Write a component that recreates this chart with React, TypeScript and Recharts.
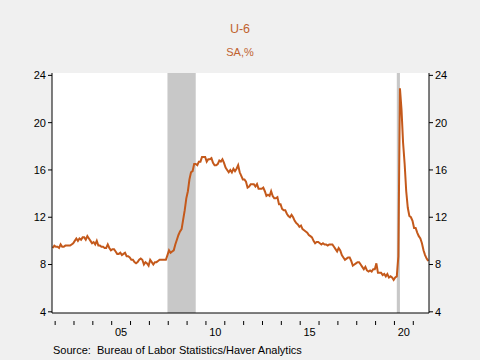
import React from 'react';
import { LineChart, Line, XAxis, YAxis, ReferenceArea, CartesianGrid } from 'recharts';

// Monthly U-6 rate, SA, %, Nov 2001 .. Oct 2021
const startYear = 2001;
const startMonth = 11; // November
const u6Values: number[] = [
  // 2001 Nov-Dec
  9.4, 9.6,
  // 2002
  9.5, 9.5, 9.4, 9.7, 9.5, 9.5, 9.6, 9.6, 9.6, 9.6, 9.7, 9.8,
  // 2003
  10.0, 10.2, 10.0, 10.2, 10.1, 10.3, 10.3, 10.1, 10.4, 10.2, 10.0, 9.8,
  // 2004
  9.9, 9.7, 10.0, 9.6, 9.6, 9.5, 9.5, 9.4, 9.4, 9.7, 9.4, 9.2,
  // 2005
  9.3, 9.3, 9.1, 8.9, 8.9, 9.0, 8.8, 8.9, 9.0, 8.7, 8.7, 8.6,
  // 2006
  8.4, 8.4, 8.2, 8.1, 8.2, 8.4, 8.5, 8.4, 8.0, 8.2, 8.1, 7.9,
  // 2007
  8.4, 8.2, 8.0, 8.2, 8.2, 8.3, 8.4, 8.4, 8.4, 8.4, 8.4, 8.8,
  // 2008
  9.2, 9.0, 9.1, 9.2, 9.7, 10.1, 10.5, 10.8, 11.0, 11.8, 12.6, 13.6,
  // 2009
  14.2, 15.2, 15.8, 15.9, 16.5, 16.5, 16.4, 16.7, 16.7, 17.1, 17.1, 17.1,
  // 2010
  16.7, 16.9, 16.9, 17.0, 16.6, 16.4, 16.4, 16.5, 16.8, 16.7, 16.9, 16.6,
  // 2011
  16.2, 16.0, 15.8, 16.0, 15.8, 16.1, 15.9, 16.1, 16.4, 15.8, 15.5, 15.2,
  // 2012
  15.2, 15.0, 14.5, 14.6, 14.8, 14.8, 14.8, 14.6, 14.8, 14.4, 14.4, 14.4,
  // 2013
  14.5, 14.2, 13.8, 13.9, 13.8, 14.2, 13.8, 13.6, 13.6, 13.7, 13.1, 13.1,
  // 2014
  12.7, 12.6, 12.6, 12.3, 12.1, 12.0, 12.2, 12.0, 11.7, 11.5, 11.4, 11.2,
  // 2015
  11.3, 11.0, 10.9, 10.8, 10.7, 10.5, 10.4, 10.3, 10.0, 9.8, 9.9, 9.9,
  // 2016
  9.8, 9.7, 9.8, 9.7, 9.7, 9.6, 9.7, 9.7, 9.7, 9.5, 9.3, 9.1,
  // 2017
  9.4, 9.2, 8.8, 8.6, 8.4, 8.5, 8.6, 8.6, 8.3, 7.9, 8.0, 8.1,
  // 2018
  8.2, 8.2, 8.0, 7.8, 7.6, 7.8, 7.5, 7.4, 7.5, 7.4, 7.6, 7.6,
  // 2019
  8.1, 7.3, 7.3, 7.3, 7.1, 7.2, 7.0, 7.2, 6.9, 7.0, 6.9, 6.7,
  // 2020
  6.9, 7.0, 8.7, 22.9, 21.1, 18.3, 16.5, 14.2, 12.8, 12.1, 12.0, 11.7,
  // 2021 Jan-Oct
  11.1, 11.1, 10.7, 10.4, 10.2, 9.8, 9.2, 8.8, 8.5, 8.3,
];

// Recessions as [start year, start month, end year, end month]
const recessions: [number, number, number, number][] = [
  [2007, 12, 2009, 6],
  [2020, 2, 2020, 4],
];

const yTicks = [4, 8, 12, 16, 20, 24];
const tickYears = Array.from({ length: 20 }, (_, i) => 2002 + i);
const labelYears: Record<number, string> = { 2005: '05', 2010: '10', 2015: '15', 2020: '20' };

const monthIndex = (y: number, m: number) => (y - startYear) * 12 + (m - startMonth);
const totalMonths = 240;

const data = u6Values.map((v, i) => ({ t: i + 0.5, v }));
const xTicks = tickYears.map((y) => monthIndex(y, 1));

const W = 480;
const H = 360;
const plotLeft = 52;
const plotRight = 429;
const pxPerMonth = (plotRight - plotLeft) / totalMonths;

const font = '"Liberation Sans", Arial, sans-serif';
const orange = '#c4591b';

const XTick = (props: any) => {
  const { x, y, payload } = props;
  const year = startYear + Math.floor((payload.value + startMonth - 1) / 12);
  const label = labelYears[year];
  return (
    <g>
      <line x1={x} y1={y} x2={x} y2={y + 4} stroke="#000" strokeWidth={1} />
      {label ? (
        <text
          x={x + 6 * pxPerMonth}
          y={y + 15}
          textAnchor="middle"
          fontSize={11}
          fontFamily={font}
          fill="#000"
        >
          {label}
        </text>
      ) : null}
    </g>
  );
};

export default function App() {
  return (
    <div
      style={{
        position: 'absolute',
        left: 0,
        top: 0,
        width: W,
        height: H,
        background: '#f0f0f0',
        fontFamily: font,
      }}
    >
      <div
        style={{
          position: 'absolute',
          top: 22,
          left: 0,
          width: W,
          textAlign: 'center',
          fontSize: 12.5,
          color: '#c0622f',
        }}
      >
        U-6
      </div>
      <div
        style={{
          position: 'absolute',
          top: 46,
          left: 0,
          width: W,
          textAlign: 'center',
          fontSize: 11,
          color: '#c0622f',
        }}
      >
        SA,%
      </div>
      <div style={{ position: 'absolute', left: 0, top: 0 }}>
        <LineChart
          width={W}
          height={H}
          data={data}
          margin={{ top: 73, right: 0, bottom: 0, left: 0 }}
        >
          <CartesianGrid horizontal={false} vertical={false} fill="#ffffff" stroke="none" yAxisId="l" />
          <XAxis
            dataKey="t"
            type="number"
            domain={[0, totalMonths]}
            ticks={xTicks}
            interval={0}
            tick={<XTick />}
            tickLine={false}
            axisLine={{ stroke: '#000' }}
            height={47}
            allowDataOverflow
          />
          <XAxis
            xAxisId="top"
            orientation="top"
            type="number"
            domain={[0, totalMonths]}
            tick={false}
            tickLine={false}
            axisLine={{ stroke: '#000' }}
            height={0}
          />
          <YAxis
            yAxisId="l"
            domain={[3.9, 24.2]}
            ticks={yTicks}
            interval={0}
            width={52}
            tickSize={4}
            tickLine={{ stroke: '#000' }}
            axisLine={{ stroke: '#000' }}
            tick={{ fontSize: 11, fill: '#000', fontFamily: font }}
            tickMargin={2}
            allowDataOverflow
          />
          <YAxis
            yAxisId="r"
            orientation="right"
            domain={[3.9, 24.2]}
            ticks={yTicks}
            interval={0}
            width={51}
            tickSize={4}
            tickLine={{ stroke: '#000' }}
            axisLine={{ stroke: '#000' }}
            tick={{ fontSize: 11, fill: '#000', fontFamily: font }}
            tickMargin={2}
            allowDataOverflow
          />
          {recessions.map(([sy, sm, ey, em], i) => (
            <ReferenceArea
              key={i}
              yAxisId="l"
              x1={monthIndex(sy, sm) + 0.5}
              x2={monthIndex(ey, em) + 0.5}
              fill="#c8c8c8"
              fillOpacity={1}
              stroke="none"
            />
          ))}
          <Line
            yAxisId="l"
            type="linear"
            dataKey="v"
            stroke={orange}
            strokeWidth={2}
            dot={false}
            isAnimationActive={false}
          />
        </LineChart>
      </div>
      <div
        style={{
          position: 'absolute',
          left: 53,
          top: 344,
          fontSize: 11,
          color: '#000',
          whiteSpace: 'pre',
        }}
      >
        {'Source:  Bureau of Labor Statistics/Haver Analytics'}
      </div>
    </div>
  );
}
